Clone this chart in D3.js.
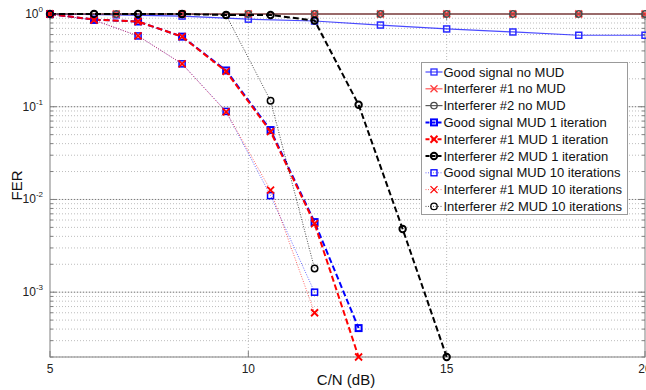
<!DOCTYPE html>
<html>
<head>
<meta charset="utf-8">
<script src="https://cdn.jsdelivr.net/npm/d3@7"></script>
<style>
  body { margin: 0; background: #fff; }
  svg { display: block; font-family: Arial, "Liberation Sans", sans-serif; }
</style>
</head>
<body>
<div id="wrapper"></div>
<script>
// x positions (C/N in dB)
const xNoMud = [5, 6.67, 8.33, 10, 11.67, 13.33, 15, 16.67, 18.33, 20];
const xMud = [5, 6.11, 7.22, 8.33, 9.44, 10.56, 11.67, 12.78, 13.89, 15];

// FER values
const goodNoMud = [1.0, 0.98, 0.95, 0.88, 0.84, 0.76, 0.69, 0.64, 0.59, 0.59];
const int1NoMud = [1, 1, 1, 1, 1, 1, 1, 1, 1, 1];
const int2NoMud = [1, 1, 1, 1, 1, 1, 1, 1, 1, 1];
const goodMud1 = [1.0, 0.87, 0.83, 0.57, 0.246, 0.056, 0.0057, 0.00041];
const int1Mud1 = [1.0, 0.87, 0.83, 0.57, 0.24, 0.054, 0.0055, 0.0002];
const int2Mud1 = [1.0, 1.0, 1.0, 1.0, 0.975, 0.975, 0.85, 0.105, 0.0048, 0.0002];
const goodMud10 = [1.0, 0.86, 0.58, 0.29, 0.089, 0.011, 0.001];
const int1Mud10 = [1.0, 0.86, 0.58, 0.29, 0.088, 0.0126, 0.0006];
const int2Mud10 = [1.0, 1.0, 1.0, 1.0, 0.975, 0.116, 0.0018];

const xTicks = [5, 10, 15, 20];
const yTicks = [1, 0.1, 0.01, 0.001];
const yTickExp = ["0", "-1", "-2", "-3"];

const seriesNames = [
  "Good signal no MUD", "Interferer #1 no MUD", "Interferer #2 no MUD",
  "Good signal MUD 1 iteration", "Interferer #1 MUD 1 iteration", "Interferer #2 MUD 1 iteration",
  "Good signal MUD 10 iterations", "Interferer #1 MUD 10 iterations", "Interferer #2 MUD 10 iterations"
];

const series = [
  { x: xNoMud, y: goodNoMud, color: "#2a2aff", marker: "square", dash: null, width: 1.2, op: 0.85 },
  { x: xNoMud, y: int1NoMud, color: "#ff3b3b", marker: "x", dash: null, width: 1.2, op: 0.85 },
  { x: xNoMud, y: int2NoMud, color: "#4a4a4a", marker: "circle", dash: null, width: 1.2, op: 0.9 },
  { x: xMud, y: goodMud1, color: "#0000ff", marker: "square", dash: "6,3", width: 2, op: 1 },
  { x: xMud, y: int1Mud1, color: "#ff0000", marker: "x", dash: "6,3", width: 2, op: 1 },
  { x: xMud, y: int2Mud1, color: "#000000", marker: "circle", dash: "6,3", width: 2, op: 1 },
  { x: xMud, y: goodMud10, color: "#0000ff", marker: "square", dash: "1,1.5", width: 1, op: 0.6 },
  { x: xMud, y: int1Mud10, color: "#ff0000", marker: "x", dash: "1,1.5", width: 1, op: 0.6 },
  { x: xMud, y: int2Mud10, color: "#000000", marker: "circle", dash: "1,1.5", width: 1, op: 0.7 }
];

let dimensions = {
  width: 646,
  height: 390,
  margin: { top: 14, right: 1, bottom: 33, left: 50 }
};
dimensions.boundedWidth = dimensions.width - dimensions.margin.left - dimensions.margin.right;
dimensions.boundedHeight = dimensions.height - dimensions.margin.top - dimensions.margin.bottom;

const wrapper = d3.select("#wrapper")
  .append("svg")
  .attr("width", dimensions.width)
  .attr("height", dimensions.height);

const bounds = wrapper.append("g")
  .attr("transform", `translate(${dimensions.margin.left},${dimensions.margin.top})`);

const xScale = d3.scaleLinear().domain([5, 20]).range([0, dimensions.boundedWidth]);
const yScale = d3.scaleLog().domain([0.0002, 1]).range([dimensions.boundedHeight, 0]);

// grid: vertical
bounds.append("g").selectAll("line")
  .data([10, 15])
  .join("line")
  .attr("x1", d => xScale(d)).attr("x2", d => xScale(d))
  .attr("y1", 0).attr("y2", dimensions.boundedHeight)
  .attr("stroke", "#b8b8b8").attr("stroke-dasharray", "1,2");

// grid: horizontal minor + major
const minorVals = [];
[0.0001, 0.001, 0.01, 0.1].forEach(dec => {
  for (let k = 2; k <= 9; k++) {
    const v = dec * k;
    if (v >= 0.0002 && v < 1) minorVals.push(v);
  }
});
bounds.append("g").selectAll("line")
  .data(minorVals)
  .join("line")
  .attr("x1", 0).attr("x2", dimensions.boundedWidth)
  .attr("y1", d => yScale(d)).attr("y2", d => yScale(d))
  .attr("stroke", "#bdbdbd").attr("stroke-dasharray", "1,2");

bounds.append("g").selectAll("line")
  .data(yTicks.slice(1))
  .join("line")
  .attr("x1", 0).attr("x2", dimensions.boundedWidth)
  .attr("y1", d => yScale(d)).attr("y2", d => yScale(d))
  .attr("stroke", "#dcdcdc");
bounds.append("g").selectAll("line")
  .data(yTicks.slice(1))
  .join("line")
  .attr("x1", 0).attr("x2", dimensions.boundedWidth)
  .attr("y1", d => yScale(d)).attr("y2", d => yScale(d))
  .attr("stroke", "#7a7a7a").attr("stroke-dasharray", "1,2");

// axis box
bounds.append("rect")
  .attr("x", 0).attr("y", 0)
  .attr("width", dimensions.boundedWidth).attr("height", dimensions.boundedHeight)
  .attr("fill", "none").attr("stroke", "#808080");

// tick marks (inside)
const tickG = bounds.append("g").attr("stroke", "#808080");
yTicks.forEach(v => {
  tickG.append("line").attr("x1", 0).attr("x2", 6).attr("y1", yScale(v)).attr("y2", yScale(v));
  tickG.append("line").attr("x1", dimensions.boundedWidth - 6).attr("x2", dimensions.boundedWidth)
    .attr("y1", yScale(v)).attr("y2", yScale(v));
});
minorVals.forEach(v => {
  tickG.append("line").attr("x1", 0).attr("x2", 3).attr("y1", yScale(v)).attr("y2", yScale(v));
  tickG.append("line").attr("x1", dimensions.boundedWidth - 3).attr("x2", dimensions.boundedWidth)
    .attr("y1", yScale(v)).attr("y2", yScale(v));
});
xTicks.forEach(v => {
  tickG.append("line").attr("x1", xScale(v)).attr("x2", xScale(v))
    .attr("y1", dimensions.boundedHeight).attr("y2", dimensions.boundedHeight - 6);
  tickG.append("line").attr("x1", xScale(v)).attr("x2", xScale(v))
    .attr("y1", 0).attr("y2", 6);
});

// tick labels
bounds.append("g").selectAll("text")
  .data(xTicks)
  .join("text")
  .attr("x", d => xScale(d))
  .attr("y", dimensions.boundedHeight + 16)
  .attr("text-anchor", "middle")
  .attr("font-size", 12)
  .attr("fill", "#222")
  .text(d => d);

yTicks.forEach((v, i) => {
  const t = bounds.append("text")
    .attr("x", -7)
    .attr("y", yScale(v) + 4)
    .attr("text-anchor", "end")
    .attr("font-size", 12)
    .attr("fill", "#222");
  t.append("tspan").text("10");
  t.append("tspan").attr("dy", -6).attr("font-size", 8).text(yTickExp[i]);
});

// axis titles
wrapper.append("text")
  .attr("transform", `translate(22,${dimensions.margin.top + dimensions.boundedHeight / 2}) rotate(-90)`)
  .attr("text-anchor", "middle")
  .attr("font-size", 15)
  .attr("fill", "#111")
  .text("FER");

wrapper.append("text")
  .attr("x", 346)
  .attr("y", 385)
  .attr("text-anchor", "middle")
  .attr("font-size", 15)
  .attr("fill", "#111")
  .text("C/N (dB)");

// markers
function drawMarker(g, m, cx, cy, color, sw) {
  if (m === "square") {
    g.append("rect").attr("x", cx - 3).attr("y", cy - 3).attr("width", 6).attr("height", 6)
      .attr("fill", "none").attr("stroke", color).attr("stroke-width", sw);
  } else if (m === "x") {
    g.append("path").attr("d", `M${cx - 3.5},${cy - 3.5}L${cx + 3.5},${cy + 3.5}M${cx - 3.5},${cy + 3.5}L${cx + 3.5},${cy - 3.5}`)
      .attr("stroke", color).attr("stroke-width", sw);
  } else {
    g.append("circle").attr("cx", cx).attr("cy", cy).attr("r", 3.2)
      .attr("fill", "none").attr("stroke", color).attr("stroke-width", sw);
  }
}

const lineGenerator = d3.line()
  .x(d => xScale(d[0]))
  .y(d => yScale(d[1]));

series.forEach(s => {
  const pts = s.y.map((v, i) => [s.x[i], v]);
  const g = bounds.append("g");
  g.append("path")
    .attr("d", lineGenerator(pts))
    .attr("fill", "none")
    .attr("stroke", s.color)
    .attr("stroke-width", s.width)
    .attr("stroke-opacity", s.op)
    .attr("stroke-dasharray", s.dash);
  const mw = s.dash === "6,3" ? 2 : 1.5;
  pts.forEach(p => drawMarker(g, s.marker, xScale(p[0]), yScale(p[1]), s.color, s.marker === "x" ? 1.8 : mw));
});

// legend
const legend = wrapper.append("g").attr("transform", "translate(421.5,62.5)");
legend.append("rect")
  .attr("width", 206).attr("height", 152)
  .attr("fill", "#fff").attr("stroke", "#9a9a9a");

seriesNames.forEach((name, i) => {
  const s = series[i];
  const cy = 9.5 + i * 16.8;
  const row = legend.append("g");
  row.append("line")
    .attr("x1", 4).attr("x2", 21).attr("y1", cy).attr("y2", cy)
    .attr("stroke", s.color)
    .attr("stroke-width", s.width)
    .attr("stroke-opacity", s.op)
    .attr("stroke-dasharray", s.dash === "6,3" ? "4,2" : s.dash);
  drawMarker(row, s.marker, 12.5, cy, s.color, s.dash === "6,3" ? 2 : 1.3);
  row.append("text")
    .attr("x", 22)
    .attr("y", cy + 4.6)
    .attr("font-size", 13)
    .attr("fill", "#111")
    .text(name);
});
</script>
</body>
</html>
